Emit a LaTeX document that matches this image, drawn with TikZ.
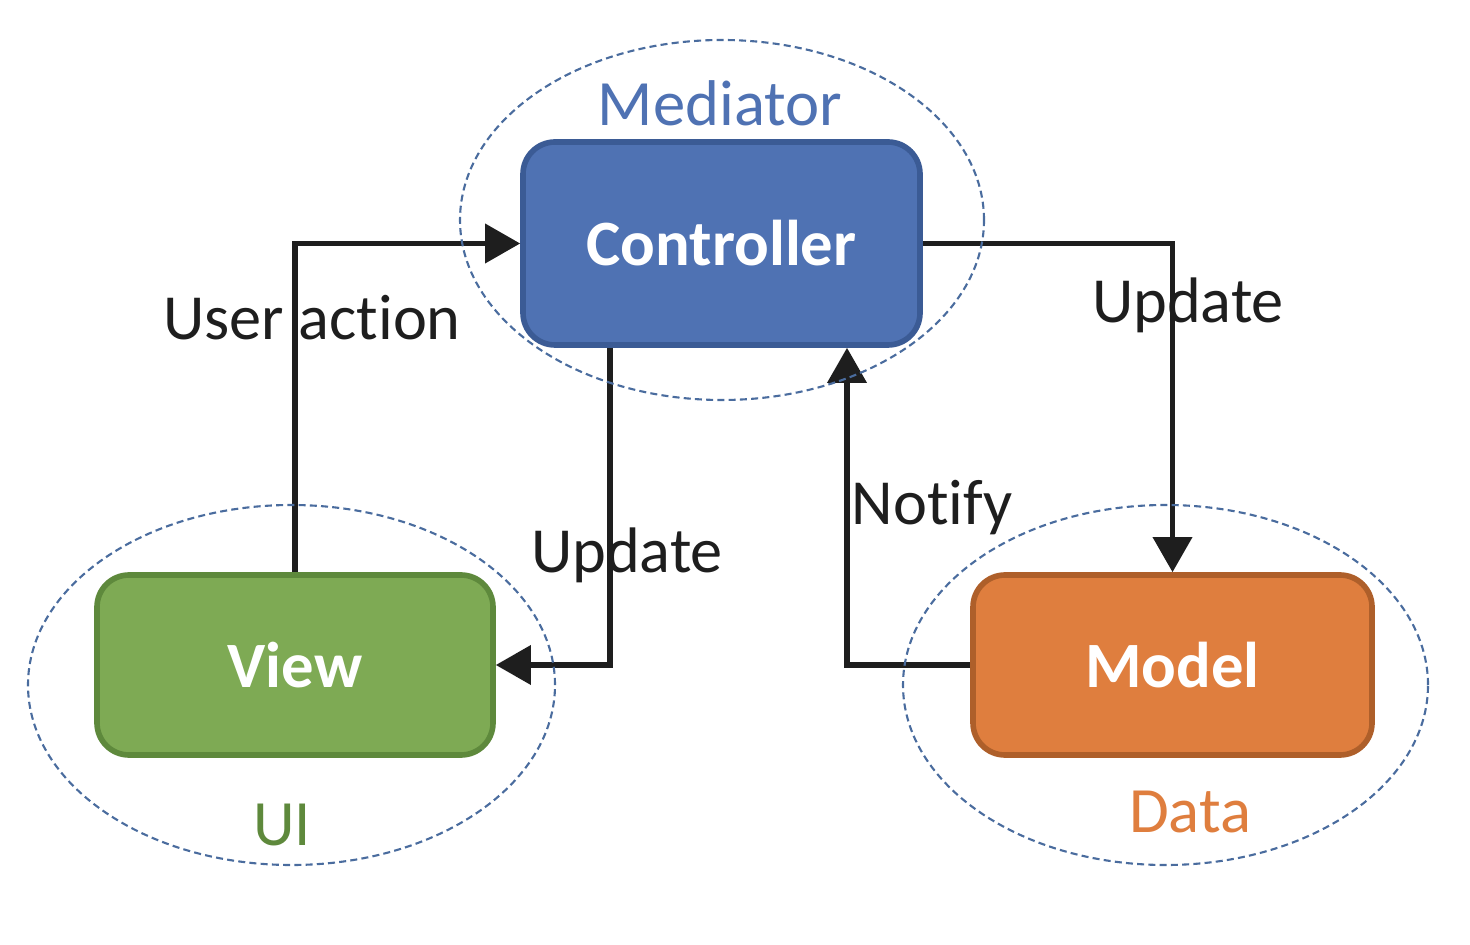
\documentclass[tikz,border=0pt]{standalone}
\usepackage{fontspec}
\setmainfont{Carlito}[Ligatures=NoCommon]
\usepackage{xcolor}
\definecolor{ctrlfill}{HTML}{4F72B3}
\definecolor{ctrldraw}{HTML}{3B5B95}
\definecolor{viewfill}{HTML}{7EAA54}
\definecolor{viewdraw}{HTML}{5E893C}
\definecolor{modelfill}{HTML}{DF7E3E}
\definecolor{modeldraw}{HTML}{AE5F2A}
\definecolor{groupline}{HTML}{4A6C9E}
\definecolor{textdark}{HTML}{1E1E1E}
\usetikzlibrary{arrows.meta,calc}

\begin{document}
\begin{tikzpicture}[
    box/.style={rounded corners=0.32cm, line width=1.6pt, font=\fontsize{18.4}{22}\selectfont\bfseries, text=white},
    link/.style={textdark, line width=1.5pt, -{Triangle[length=10pt,width=11pt]}},
    linklabel/.style={font=\fontsize{18.3}{22}\selectfont, text=textdark},
    group/.style={groupline, line width=0.6pt, dash pattern=on 2pt off 1.2pt},
    grouplabel/.style={font=\fontsize{18.4}{22}\selectfont}
  ]
  \useasboundingbox (0,0) rectangle (14.7,9.44);
  % the three parts
  \node[box, fill=ctrlfill, draw=ctrldraw, minimum width=3.97cm, minimum height=2.03cm] (ctrl) at (7.215,7.005) {Controller};
  \node[box, fill=viewfill, draw=viewdraw, minimum width=3.96cm, minimum height=1.80cm] (view) at (2.95,2.79) {View};
  \node[box, fill=modelfill, draw=modeldraw, minimum width=3.99cm, minimum height=1.80cm] (model) at (11.725,2.79) {Model};
  % connectors
  \draw[link] (view.north) |- (ctrl.west);
  \draw[link] ([xshift=-1.115cm]ctrl.south) |- (view.east);
  \draw[link] (ctrl.east) -| (model.north);
  \draw[link] (model.west) -| ([xshift=1.255cm]ctrl.south);
  \node[linklabel] (useraction) at (3.12,6.26) {User action};
  \node[linklabel] (updateview) at (6.27,3.89) {Update};
  \node[linklabel] (updatemodel) at (11.88,6.39) {Update};
  \node[linklabel] (notify) at (9.32,4.36) {Notify};
  % groups
  \draw[group] (7.22,7.24) ellipse (2.62cm and 1.80cm);
  \draw[group] (2.915,2.59) ellipse (2.635cm and 1.80cm);
  \draw[group] (11.655,2.59) ellipse (2.625cm and 1.80cm);
  \node[grouplabel, text=ctrlfill] (mediator) at (7.20,8.41) {Mediator};
  \node[grouplabel, text=viewdraw] (ui) at (2.82,1.19) {UI};
  \node[grouplabel, text=modelfill] (data) at (11.90,1.32) {Data};
\end{tikzpicture}
\end{document}
